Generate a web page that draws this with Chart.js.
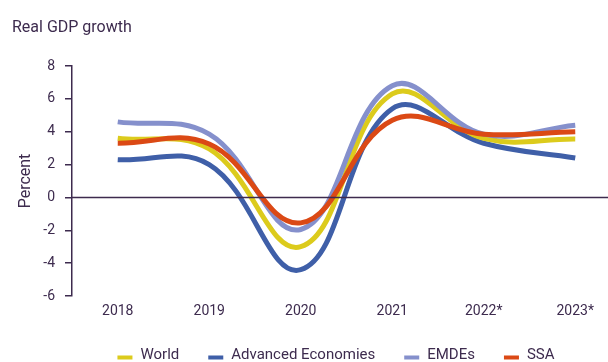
<!DOCTYPE html>
<html lang="en">
<head>
  <meta charset="UTF-8">
  <title>Real GDP growth</title>
  <script src="https://cdn.jsdelivr.net/npm/chart.js"></script>
  <style>
    html, body { margin: 0; padding: 0; background: #fff; overflow: hidden; }
    #wrap { width: 672px; height: 362px; position: relative; }
  </style>
</head>
<body>

<div id="wrap"><canvas id="gdp"></canvas></div>

<script>
  // Real GDP growth, percent
  const years = ['2018', '2019', '2020', '2021', '2022*', '2023*'];
  const world = [3.6, 2.95, -3.0, 6.3, 3.6, 3.55];
  const advanced = [2.3, 2.0, -4.4, 5.4, 3.3, 2.4];
  const emdes = [4.6, 3.85, -1.95, 6.8, 3.85, 4.4];
  const ssa = [3.3, 3.25, -1.55, 4.7, 3.85, 4.0];
  const yTicks = [8, 6, 4, 2, 0, -2, -4, -6];

  const ink = '#3d2b4e';
  const font = "'Roboto', sans-serif";

  // heading in the top left corner
  const heading = {
    id: 'heading',
    afterDraw(chart) {
      const c = chart.ctx;
      c.save();
      c.fillStyle = ink;
      c.font = '16px ' + font;
      c.textBaseline = 'alphabetic';
      c.fillText('Real GDP growth', 12, 31.5);
      c.restore();
    }
  };

  // zero line sits on top of the series
  const zeroLine = {
    id: 'zeroLine',
    afterDatasetsDraw(chart) {
      const y = chart.scales.y.getPixelForValue(0);
      const c = chart.ctx;
      c.save();
      c.strokeStyle = ink;
      c.lineWidth = 1.5;
      c.beginPath();
      c.moveTo(chart.chartArea.left, y);
      c.lineTo(chart.chartArea.right, y);
      c.stroke();
      c.restore();
    }
  };

  // one row of short line swatches under the axis, in dataset order
  const keyRow = {
    id: 'keyRow',
    afterDraw(chart) {
      const c = chart.ctx;
      const sw = 15, gap = 8, spacing = 29, cy = 355;
      c.save();
      c.font = '15px ' + font;
      const items = chart.data.datasets.map(ds => ({
        label: ds.label, color: ds.borderColor, w: c.measureText(ds.label).width
      }));
      const total = items.reduce((s, it) => s + sw + gap + it.w, 0) + spacing * (items.length - 1);
      let x = chart.width / 2 - total / 2;
      c.textBaseline = 'middle';
      items.forEach(it => {
        c.fillStyle = it.color;
        c.fillRect(x, cy + 0.5, sw, 4);
        c.fillStyle = ink;
        c.fillText(it.label, x + sw + gap, cy);
        x += sw + gap + it.w + spacing;
      });
      c.restore();
    }
  };

  const line = (label, data, color, order) => ({
    label, data, order,
    borderColor: color,
    backgroundColor: color,
    borderWidth: 5,
    pointRadius: 0,
    tension: 0.4,
    fill: false
  });

  new Chart(document.getElementById('gdp'), {
    type: 'line',
    data: {
      labels: years,
      datasets: [
        line('World', world, '#dccb1c', 2),
        line('Advanced Economies', advanced, '#3f5fa8', 3),
        line('EMDEs', emdes, '#8590cc', 1),
        line('SSA', ssa, '#db4915', 0)
      ]
    },
    options: {
      responsive: true,
      maintainAspectRatio: false,
      animation: false,
      layout: { padding: { top: 66, right: 51, left: 0, bottom: 40 } },
      plugins: {
        tooltip: { enabled: false },
        legend: { display: false }
      },
      scales: {
        x: {
          offset: true,
          grid: { display: false, drawTicks: false },
          border: { display: false },
          ticks: { color: ink, font: { family: font, size: 14 }, padding: 7 },
          afterFit: s => { s.height = 26; }
        },
        y: {
          min: -6,
          max: 8,
          afterBuildTicks: s => { s.ticks = yTicks.map(v => ({ value: v })); },
          grid: { color: 'transparent', tickColor: ink, tickLength: 7, lineWidth: 1.5 },
          border: { color: ink, width: 1.5 },
          ticks: { color: ink, font: { family: font, size: 14 }, padding: 10 },
          title: {
            display: true,
            text: 'Percent',
            color: ink,
            font: { family: font, size: 16 },
            padding: { top: 16, bottom: 0 }
          },
          afterFit: s => { s.width = 72; }
        }
      }
    },
    plugins: [heading, zeroLine, keyRow]
  });
</script>

</body>
</html>
